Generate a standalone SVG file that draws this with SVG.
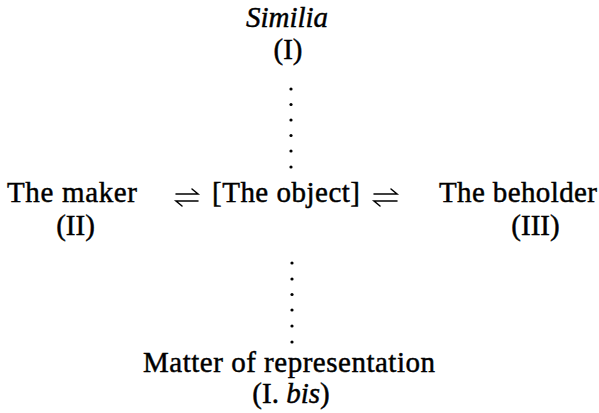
<svg xmlns="http://www.w3.org/2000/svg" width="599" height="413" viewBox="0 0 599 413">
<style>
text{font-family:"Liberation Serif","Times New Roman",serif;font-size:29px;fill:#000;stroke:#000;stroke-width:0.45}
.it{font-style:italic}
.mid{text-anchor:middle}
.dot{fill:#000}
.hp{stroke:#000;stroke-width:1.5;fill:none;stroke-linecap:round}
</style>
<rect width="599" height="413" fill="#fff"/>
<g id="similia">
<text class="it mid" x="287" y="27">Similia</text>
<text class="mid" x="288" y="59">(I)</text>
</g>
<g id="maker">
<text x="7" y="202" textLength="130" lengthAdjust="spacing">The maker</text>
<text class="mid" x="75.5" y="235">(II)</text>
</g>
<g id="object">
<text x="212" y="202" textLength="148" lengthAdjust="spacing">[The object]</text>
</g>
<g id="beholder">
<text x="439" y="202" textLength="158" lengthAdjust="spacing">The beholder</text>
<text class="mid" x="535.5" y="235">(III)</text>
</g>
<g id="matter">
<text x="143" y="372" textLength="292" lengthAdjust="spacing">Matter of representation</text>
<text class="mid" x="291" y="403">(I. <tspan class="it">bis</tspan>)</text>
</g>
<g id="connectors">
<g class="dot">
<circle cx="291" cy="89" r="1.6"/><circle cx="291" cy="104.5" r="1.6"/><circle cx="291" cy="120" r="1.6"/><circle cx="291" cy="135.5" r="1.6"/><circle cx="291" cy="151" r="1.6"/><circle cx="291" cy="167" r="1.6"/>
<circle cx="292" cy="263" r="1.6"/><circle cx="292" cy="279" r="1.6"/><circle cx="292" cy="294.5" r="1.6"/><circle cx="292" cy="310" r="1.6"/><circle cx="292" cy="326" r="1.6"/><circle cx="292" cy="342" r="1.6"/>
</g>
<path class="hp" d="M176 194H198L192 189M198 201H176L182 206"/>
<path class="hp" d="M374 194H397L391 189M397 201H374L380 206"/>
</g>
</svg>
